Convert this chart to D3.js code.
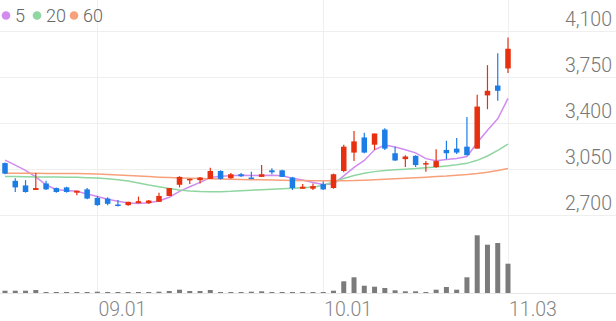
<!DOCTYPE html>
<html>
<head>
<meta charset="utf-8">
<script src="https://cdn.jsdelivr.net/npm/d3@7/dist/d3.min.js"></script>
<style>
  html, body { margin: 0; padding: 0; background: #fff; }
  svg { display: block; font-family: Roboto, "Noto Sans", sans-serif; }
</style>
</head>
<body>
<svg id="chart" width="616" height="321"></svg>
<script>
const dates = ["2025-08-19","2025-08-20","2025-08-21","2025-08-22","2025-08-25","2025-08-26","2025-08-27","2025-08-28","2025-08-29",
  "2025-09-01","2025-09-02","2025-09-03","2025-09-04","2025-09-05","2025-09-08","2025-09-09","2025-09-10","2025-09-11","2025-09-12",
  "2025-09-15","2025-09-16","2025-09-17","2025-09-18","2025-09-19","2025-09-22","2025-09-23","2025-09-24","2025-09-25","2025-09-26",
  "2025-09-29","2025-09-30","2025-10-01","2025-10-02","2025-10-10","2025-10-13","2025-10-14","2025-10-15","2025-10-16","2025-10-17",
  "2025-10-20","2025-10-21","2025-10-22","2025-10-23","2025-10-24","2025-10-27","2025-10-28","2025-10-29","2025-10-30","2025-10-31",
  "2025-11-03"];
const open  = [3095,2960,2925,2890,2940,2905,2910,2870,2895,2830,2825,2780,2775,2790,2790,2800,2845,2930,2965,2965,2975,3035,2980,3010,2985,2990,3040,3040,2985,2900,2900,2935,2905,3035,3175,3290,3235,3350,3170,3125,3150,3085,3065,3195,3205,3220,3205,3610,3685,3815];
const high  = [3100,2980,2965,3020,2960,2910,2915,2885,2905,2845,2835,2815,2800,2840,2815,2870,2905,2995,2975,2990,3060,3040,3020,3020,3030,3080,3055,3045,2990,2935,2940,2955,3015,3235,3340,3325,3320,3360,3220,3155,3155,3110,3200,3265,3285,3445,3615,3840,3930,4050];
const low   = [3010,2875,2870,2890,2890,2870,2870,2850,2820,2770,2775,2765,2770,2790,2785,2800,2845,2910,2935,2940,2975,2970,2975,2990,2975,2990,3010,2990,2890,2900,2890,2890,2900,3025,3110,3170,3195,3195,3110,3065,3065,3030,3060,3125,3165,3155,3205,3505,3570,3780];
const close = [3015,2910,2875,2905,2895,2875,2875,2885,2825,2775,2785,2770,2800,2805,2810,2845,2905,2990,2975,2985,3035,2975,3010,2995,2975,3010,3025,2990,2905,2915,2920,2895,3010,3220,3260,3175,3320,3205,3115,3145,3080,3095,3110,3170,3175,3155,3525,3645,3645,3965];
const volume = [115000,115000,115000,150000,50000,50000,50000,50000,50000,65000,50000,50000,50000,50000,50000,65000,100000,165000,100000,100000,150000,50000,50000,50000,65000,85000,50000,50000,50000,50000,50000,50000,115000,585000,785000,365000,315000,250000,135000,85000,85000,50000,165000,300000,165000,785000,2885000,2415000,2500000,1465000];
const ma5  = [3118,3080,3040,2990,2930,2892,2887,2880,2860,2840,2820,2805,2792,2788,2794,2807,2835,2880,2915,2948,2985,2994,2999,3002,3000,3000,3003,2998,2980,2967,2948,2932,2935,2998,3062,3115,3196,3232,3218,3197,3173,3129,3113,3122,3130,3145,3250,3345,3432,3588];
const ma20 = [2993,2992,2991,2990,2989,2989,2988,2987,2984,2982,2975,2968,2959,2944,2928,2915,2902,2890,2883,2878,2877,2877,2880,2885,2889,2893,2896,2900,2904,2908,2913,2924,2953,2978,3001,3017,3030,3039,3044,3049,3053,3059,3065,3073,3082,3093,3116,3149,3192,3240];
const ma60 = [3017,3017,3017,3017,3016,3016,3016,3015,3013,3012,3008,3004,3000,2996,2992,2988,2985,2982,2979,2977,2975,2974,2972,2971,2969,2968,2966,2965,2963,2962,2961,2960,2960,2961,2962,2965,2968,2972,2975,2979,2983,2987,2992,2996,3002,3008,3016,3026,3039,3054];
const priceTicks = [2700, 3050, 3400, 3750, 4100];
const dateTicks = ["2025-09-01", "2025-10-01", "2025-11-03"];
const dateTickLabels = ["09.01", "10.01", "11.03"];
const legendNames = ["5", "20", "60"];

const W = 616, H = 321;
const UP = "#e6300f", DOWN = "#1d7de6";
const maColors = ["#d28cf0", "#8fd6a0", "#f7a17b"];
const GRID = "#efefef";

const svg = d3.select("#chart");
svg.append("rect").attr("width", W).attr("height", H).attr("fill", "#fff");

const x = d3.scalePoint().domain(dates).range([5, 508]);
const y = d3.scaleLinear().domain([2700, 4100]).range([215, 31]);
const yv = d3.scaleLinear().domain([0, 3000000]).range([293, 233]);

// horizontal grid
svg.append("g").selectAll("line").data(priceTicks).join("line")
  .attr("x1", 0).attr("x2", W)
  .attr("y1", d => Math.round(y(d)) + 0.5).attr("y2", d => Math.round(y(d)) + 0.5)
  .attr("stroke", GRID).attr("stroke-width", 1);
// volume baseline
svg.append("line").attr("x1", 0).attr("x2", W)
  .attr("y1", Math.round(yv(0)) + 0.5).attr("y2", Math.round(yv(0)) + 0.5)
  .attr("stroke", "#e6e6e6");
// vertical grid
svg.append("g").selectAll("line").data(dateTicks).join("line")
  .attr("x1", d => Math.round(x(d)) + 0.5).attr("x2", d => Math.round(x(d)) + 0.5)
  .attr("y1", 0).attr("y2", yv(0))
  .attr("stroke", GRID).attr("stroke-width", 1);

// y axis labels
const yAxis = d3.axisLeft(y).tickValues(priceTicks).tickSize(0).tickPadding(0).tickFormat(d3.format(","));
const gy = svg.append("g").attr("transform", "translate(612,0)").call(yAxis);
gy.select(".domain").remove();
gy.selectAll("text").attr("dy", null).attr("y", -6)
  .attr("fill", "#777").style("font-size", "19.5px").style("font-weight", "300")
  .style("font-family", "Roboto, sans-serif");

// x axis labels
const labelMap = Object.fromEntries(dateTicks.map((d, i) => [d, dateTickLabels[i]]));
const xAxis = d3.axisBottom(x).tickValues(dateTicks).tickSize(0).tickPadding(0).tickFormat(d => labelMap[d]);
const gx = svg.append("g").attr("transform", "translate(0,316)").call(xAxis);
gx.select(".domain").remove();
gx.selectAll("text").attr("dy", null).attr("y", 0).attr("x", 0.5)
  .attr("text-anchor", "start")
  .attr("fill", "#858585").style("font-size", "19.5px").style("font-weight", "300")
  .style("font-family", "Roboto, sans-serif");

// volume bars
const vbw = 5;
svg.append("g").selectAll("rect").data(dates).join("rect")
  .attr("x", d => x(d) - vbw / 2)
  .attr("y", (d, i) => yv(volume[i]))
  .attr("width", vbw)
  .attr("height", (d, i) => yv(0) - yv(volume[i]))
  .attr("fill", "#7b7b7b");

// moving averages
[ma5, ma20, ma60].forEach((arr, k) => {
  const line = d3.line().x((d, i) => x(dates[i])).y(d => y(d));
  svg.append("path").datum(arr).attr("d", line)
    .attr("fill", "none").attr("stroke", maColors[k]).attr("stroke-width", 1.5);
});

// candles
const bw = 5.5;
const cg = svg.append("g").selectAll("g").data(dates).join("g");
cg.append("line")
  .attr("x1", d => x(d)).attr("x2", d => x(d))
  .attr("y1", (d, i) => y(high[i])).attr("y2", (d, i) => y(low[i]))
  .attr("stroke", (d, i) => close[i] >= open[i] ? UP : DOWN).attr("stroke-width", 1.2);
cg.append("rect")
  .attr("x", d => x(d) - bw / 2)
  .attr("y", (d, i) => y(Math.max(open[i], close[i])))
  .attr("width", bw)
  .attr("height", (d, i) => Math.max(1.5, Math.abs(y(open[i]) - y(close[i]))))
  .attr("fill", (d, i) => close[i] >= open[i] ? UP : DOWN);

// legend
const lg = svg.append("g");
const legX = [6, 37, 74];
legendNames.forEach((n, k) => {
  lg.append("circle").attr("cx", legX[k]).attr("cy", 15.5).attr("r", 4.3).attr("fill", maColors[k]);
  lg.append("text").attr("x", legX[k] + 9).attr("y", 22).text(n)
    .attr("fill", "#666").style("font-size", "18px").style("font-weight", "300");
});
</script>
</body>
</html>
